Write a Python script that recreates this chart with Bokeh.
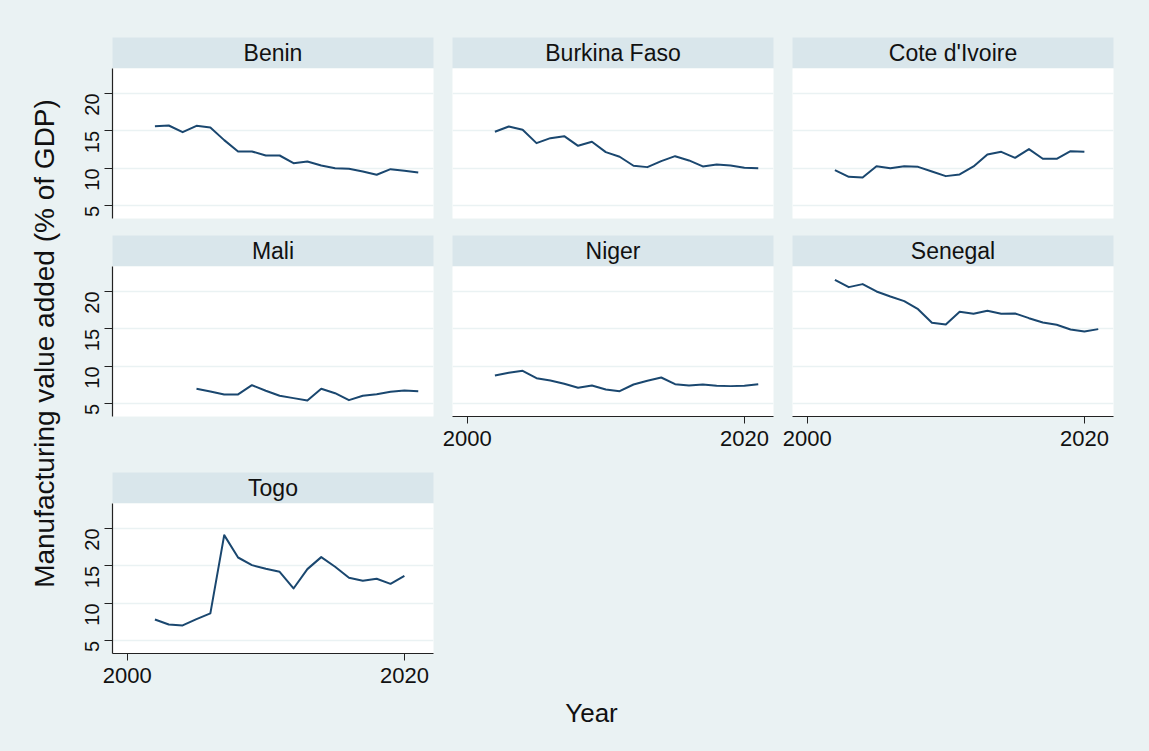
from math import pi
from bokeh.plotting import figure
from bokeh.models import Range1d, Label, FixedTicker, LinearAxis, Grid
from bokeh.layouts import row, column
from bokeh.embed import file_html
from bokeh.resources import INLINE
from bokeh.core.validation import silence
from bokeh.core.validation.warnings import MISSING_RENDERERS

silence(MISSING_RENDERERS, True)

# ---------------- data ----------------
countries = ["Benin", "Burkina Faso", "Cote d'Ivoire", "Mali", "Niger", "Senegal", "Togo"]

years_benin = [2002, 2003, 2004, 2005, 2006, 2007, 2008, 2009, 2010, 2011,
               2012, 2013, 2014, 2015, 2016, 2017, 2018, 2019, 2020, 2021]
benin = [15.64, 15.73, 14.84, 15.69, 15.47, 13.78, 12.27, 12.27, 11.73, 11.73,
         10.71, 10.93, 10.40, 10.04, 9.96, 9.60, 9.16, 9.91, 9.69, 9.47]

years_burkina = [2002, 2003, 2004, 2005, 2006, 2007, 2008, 2009, 2010, 2011,
                 2012, 2013, 2014, 2015, 2016, 2017, 2018, 2019, 2020, 2021]
burkina = [14.89, 15.60, 15.16, 13.38, 14.04, 14.31, 13.02, 13.56, 12.18, 11.56,
           10.36, 10.18, 10.98, 11.64, 11.07, 10.27, 10.53, 10.40, 10.09, 10.04]

years_cote = [2002, 2003, 2004, 2005, 2006, 2007, 2008, 2009, 2010, 2011,
              2012, 2013, 2014, 2015, 2016, 2017, 2018, 2019, 2020]
cote = [9.78, 8.89, 8.80, 10.31, 10.04, 10.31, 10.22, 9.60, 8.98, 9.20,
        10.27, 11.87, 12.22, 11.42, 12.58, 11.29, 11.29, 12.31, 12.22]

years_mali = [2005, 2006, 2007, 2008, 2009, 2010, 2011, 2012, 2013, 2014,
              2015, 2016, 2017, 2018, 2019, 2020, 2021]
mali = [7.02, 6.67, 6.27, 6.27, 7.51, 6.76, 6.09, 5.78, 5.47, 7.02,
        6.44, 5.51, 6.09, 6.31, 6.62, 6.80, 6.71]

years_niger = [2002, 2003, 2004, 2005, 2006, 2007, 2008, 2009, 2010, 2011,
               2012, 2013, 2014, 2015, 2016, 2017, 2018, 2019, 2020, 2021]
niger = [8.80, 9.16, 9.42, 8.44, 8.13, 7.69, 7.16, 7.47, 6.93, 6.71,
         7.60, 8.09, 8.53, 7.64, 7.47, 7.60, 7.42, 7.38, 7.42, 7.64]

years_senegal = [2002, 2003, 2004, 2005, 2006, 2007, 2008, 2009, 2010, 2011,
                 2012, 2013, 2014, 2015, 2016, 2017, 2018, 2019, 2020, 2021]
senegal = [21.56, 20.58, 20.98, 20.00, 19.33, 18.71, 17.64, 15.82, 15.60, 17.29,
           17.02, 17.42, 17.02, 17.07, 16.44, 15.87, 15.56, 14.93, 14.67, 14.98]

years_togo = [2002, 2003, 2004, 2005, 2006, 2007, 2008, 2009, 2010, 2011,
              2012, 2013, 2014, 2015, 2016, 2017, 2018, 2019, 2020]
togo = [7.87, 7.20, 7.07, 7.91, 8.67, 19.11, 16.13, 15.11, 14.62, 14.22,
        12.00, 14.58, 16.18, 14.89, 13.42, 13.02, 13.29, 12.62, 13.69]

y_ticks = [5, 10, 15, 20]
x_ticks = [2000, 2020]
y_title = "Manufacturing value added (% of GDP)"
x_title = "Year"

# ---------------- style ----------------
BG = "#eaf2f3"
STRIP = "#d9e6eb"
LINE = "#1a476f"
GRID = "#eaf2f3"
FONT = "Liberation Sans"
FRAME_H = 150
STRIP_H = 31
BGSTYLE = {"background-color": BG}


def base(width, height, xr, yr, left, right, top, bottom, bg):
    f = figure(width=width, height=height, x_range=xr, y_range=yr,
               x_axis_type=None, y_axis_type=None,
               toolbar_location=None, output_backend="svg",
               min_border_left=left, min_border_right=right,
               min_border_top=top, min_border_bottom=bottom,
               styles=BGSTYLE)
    f.background_fill_color = bg
    f.border_fill_color = BG
    f.outline_line_color = None
    return f


def strip(name, width, left, right, top):
    s = base(width, STRIP_H + top, Range1d(0, 1), Range1d(0, 1),
             left, right, top, 0, STRIP)
    s.add_layout(Label(x=0.5, y=0.5, text=name, text_align="center",
                       text_baseline="middle", text_font=FONT,
                       text_font_size="23px", text_color="#111111"))
    return s


def panel(years, vals, width, left, right, bottom, show_y, show_x):
    p = base(width, FRAME_H + bottom, Range1d(1998.94, 2022.1), Range1d(3.33, 23.33),
             left, right, 0, bottom, "white")
    g = Grid(dimension=1, ticker=FixedTicker(ticks=y_ticks),
             grid_line_color=GRID, grid_line_width=1.6)
    p.add_layout(g)
    if show_y:
        ya = LinearAxis(ticker=FixedTicker(ticks=y_ticks))
        ya.major_label_orientation = pi / 2
        ya.axis_line_color = "#222222"
        ya.axis_line_width = 1.2
        ya.major_tick_line_color = "#222222"
        ya.major_tick_out = 8
        ya.major_tick_in = 0
        ya.minor_tick_out = 0
        ya.minor_tick_in = 0
        ya.major_label_standoff = 12
        ya.major_label_text_font = FONT
        ya.major_label_text_font_size = "20px"
        ya.major_label_text_color = "#111111"
        p.add_layout(ya, "left")
    if show_x:
        xa = LinearAxis(ticker=FixedTicker(ticks=x_ticks))
        xa.axis_line_color = "#222222"
        xa.axis_line_width = 1.2
        xa.major_tick_line_color = "#222222"
        xa.major_tick_out = 7
        xa.major_tick_in = 0
        xa.minor_tick_out = 0
        xa.minor_tick_in = 0
        xa.major_label_standoff = 7
        xa.major_label_text_font = FONT
        xa.major_label_text_font_size = "22px"
        xa.major_label_text_color = "#111111"
        p.add_layout(xa, "below")
    p.line(years, vals, line_color=LINE, line_width=2, line_join="round")
    return p


# column geometry: (width, left border, right border)
C1 = (380, 50, 9)
C2 = (335, 10, 4)
C3 = (372, 15, 36)


def cell(name, years, vals, col, strip_top, bottom, show_y, show_x):
    w, l, r = col
    return column(strip(name, w, l, r, strip_top),
                  panel(years, vals, w, l, r, bottom, show_y, show_x),
                  spacing=0, styles=BGSTYLE)


row1 = row(
    cell(countries[0], years_benin, benin, C1, 37, 17, True, False),
    cell(countries[1], years_burkina, burkina, C2, 37, 17, False, False),
    cell(countries[2], years_cote, cote, C3, 37, 17, False, False),
    spacing=0, styles=BGSTYLE,
)
row2 = row(
    cell(countries[3], years_mali, mali, C1, 0, 56, True, False),
    cell(countries[4], years_niger, niger, C2, 0, 56, False, True),
    cell(countries[5], years_senegal, senegal, C3, 0, 56, False, True),
    spacing=0, styles=BGSTYLE,
)

filler = base(C2[0] + C3[0], 279, Range1d(0, C2[0] + C3[0]), Range1d(0, 279),
              0, 0, 0, 0, BG)
filler.add_layout(Label(x=149, y=39, text=x_title, text_align="center",
                        text_baseline="middle", text_font=FONT,
                        text_font_size="26px", text_color="#111111"))
row3 = row(
    cell(countries[6], years_togo, togo, C1, 0, 98, True, True),
    filler,
    spacing=0, styles=BGSTYLE,
)

title_fig = base(62, 751, Range1d(0, 62), Range1d(0, 751), 0, 0, 0, 0, BG)
title_fig.add_layout(Label(x=44, y=751 - 343, text=y_title, angle=pi / 2,
                           text_align="center", text_baseline="middle",
                           text_font=FONT, text_font_size="28px",
                           text_color="#111111"))

layout = row(title_fig, column(row1, row2, row3, spacing=0, styles=BGSTYLE),
             spacing=0, styles=BGSTYLE)

open("out.html", "w").write(file_html(layout, INLINE))
